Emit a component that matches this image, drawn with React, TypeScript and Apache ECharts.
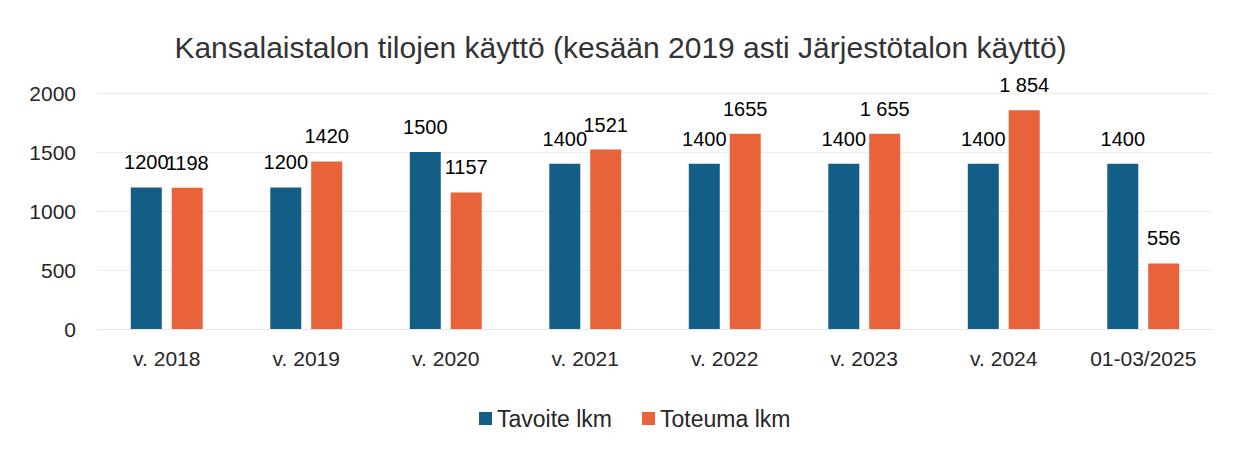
import React, { useEffect, useRef } from "react";
import * as echarts from "echarts";

const categories = ["v. 2018", "v. 2019", "v. 2020", "v. 2021", "v. 2022", "v. 2023", "v. 2024", "01-03/2025"];
const tavoite = [1200, 1200, 1500, 1400, 1400, 1400, 1400, 1400];
const toteuma = [1198, 1420, 1157, 1521, 1655, 1655, 1854, 556];
const tavoiteLabels = ["1200", "1200", "1500", "1400", "1400", "1400", "1400", "1400"];
const toteumaLabels = ["1198", "1420", "1157", "1521", "1655", "1 655", "1 854", "556"];
const yTicks = [0, 500, 1000, 1500, 2000];

const FONT = "'Liberation Sans', Arial, sans-serif";

export default function App() {
  const ref = useRef<HTMLDivElement>(null);
  useEffect(() => {
    document.body.style.margin = "0";
    const chart = echarts.init(ref.current!, null, { renderer: "svg" });
    chart.setOption({
      animation: false,
      backgroundColor: "#ffffff",
      textStyle: { fontFamily: FONT },
      title: {
        text: "Kansalaistalon tilojen käyttö (kesään 2019 asti Järjestötalon käyttö)",
        left: "center",
        top: 27,
        textStyle: { fontFamily: FONT, fontSize: 30, fontWeight: "normal", color: "#333333" },
      },
      legend: {
        top: 402,
        left: 474,
        itemWidth: 13,
        itemHeight: 13,
        itemGap: 30,
        icon: "rect",
        textStyle: { fontFamily: FONT, fontSize: 23, color: "#262626" },
        data: ["Tavoite lkm", "Toteuma lkm"],
      },
      grid: { left: 97, right: 28, top: 93, bottom: 124, containLabel: false },
      xAxis: {
        type: "category",
        data: categories,
        axisLine: { show: true, lineStyle: { color: "#e6e6e6" } },
        axisTick: { show: false },
        axisLabel: { fontFamily: FONT, fontSize: 21, color: "#262626", margin: 19 },
      },
      yAxis: {
        type: "value",
        min: yTicks[0],
        max: yTicks[yTicks.length - 1],
        interval: 500,
        axisLine: { show: false },
        axisTick: { show: false },
        splitLine: { lineStyle: { color: "#ededed" } },
        axisLabel: {
          fontFamily: FONT,
          fontSize: 21,
          color: "#262626",
          margin: 21,
          formatter: (v: number) => String(v),
        },
      },
      series: [
        {
          name: "Tavoite lkm",
          type: "bar",
          data: tavoite,
          barWidth: 31,
          barGap: "32%",
          itemStyle: { color: "#135e86" },
          label: {
            show: true,
            position: "top",
            distance: 15,
            fontFamily: FONT,
            fontSize: 20,
            color: "#000000",
            formatter: (p: any) => tavoiteLabels[p.dataIndex],
          },
        },
        {
          name: "Toteuma lkm",
          type: "bar",
          data: toteuma,
          barWidth: 31,
          itemStyle: { color: "#e8623a" },
          label: {
            show: true,
            position: "top",
            distance: 15,
            fontFamily: FONT,
            fontSize: 20,
            color: "#000000",
            formatter: (p: any) => toteumaLabels[p.dataIndex],
          },
        },
      ],
    });
    return () => chart.dispose();
  }, []);
  return <div ref={ref} style={{ width: 1241, height: 453 }} />;
}
